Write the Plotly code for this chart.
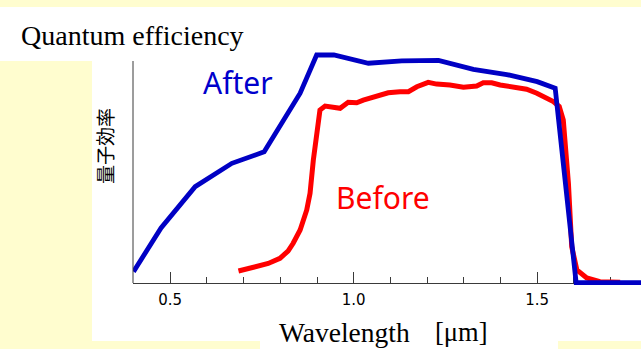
import plotly.graph_objects as go

# ---------------- data ----------------
after_wl = [0.400, 0.475, 0.568, 0.668, 0.756, 0.854, 0.899, 0.946, 1.040,
            1.131, 1.231, 1.326, 1.417, 1.500, 1.549, 1.606, 1.783]
after_qe = [5.1, 24.8, 43.4, 53.9, 59.1, 85.5, 102.7, 102.7, 99.0,
            100.1, 100.3, 96.2, 93.9, 90.7, 87.7, 0.2, 0.2]

before_wl = [0.686, 0.736, 0.767, 0.799, 0.821, 0.835, 0.854, 0.872, 0.881,
             0.890, 0.901, 0.908, 0.922,
             0.949, 0.963, 0.985, 1.008, 1.026, 1.049, 1.072, 1.094, 1.126,
             1.149, 1.172, 1.203, 1.226, 1.262, 1.299, 1.335, 1.353, 1.376,
             1.399, 1.431, 1.471, 1.499, 1.526, 1.544, 1.560, 1.571, 1.585,
             1.594, 1.608, 1.635, 1.671, 1.726]
before_qe = [5.4, 7.3, 8.8, 11.1, 14.4, 17.9, 23.9, 32.9, 40.4,
             55.4, 68.9, 77.9, 79.7,
             79.0, 78.7, 81.4, 81.2, 82.4, 83.5, 85.0, 85.7, 86.2,
             86.2, 88.4, 90.4, 89.6, 89.2, 88.2, 88.7, 90.2, 90.2,
             89.2, 88.2, 87.3, 85.5, 83.2, 81.7, 79.5, 73.4, 45.0,
             16.4, 5.9, 2.3, 0.6, 0.3]

x_ticks = [0.5, 1.0, 1.5]
x_tick_text = ["0.5", "1.0", "1.5"]

# ---------------- layout geometry ----------------
W, H = 641, 349
L, R, T, B = 133, 0, 30, 56
PW, PH = W - L - R, H - T - B
AXIS_Y = 283                      # pixel row of the x axis
PX_PER_UNIT = 2.22
Y_TOP = (AXIS_Y - T) / PX_PER_UNIT
Y_BOT2 = -(H - B - AXIS_Y) / PX_PER_UNIT
X_RANGE = [0.3986, 1.7828]

def pxx(x):
    return (x - L) / PW

def pxy(y):
    return (H - B - y) / PH

YELLOW = "#FFFDCF"
BLUE = "#0000C4"
RED = "#FF0000"
AXIS = "#3a3a3a"

fig = go.Figure()
fig.add_trace(go.Scatter(x=before_wl, y=before_qe, mode="lines", xaxis="x2", yaxis="y2",
                         line=dict(color=RED, width=5),
                         hoverinfo="skip", showlegend=False))
fig.add_trace(go.Scatter(x=after_wl, y=after_qe, mode="lines", xaxis="x2", yaxis="y2",
                         line=dict(color=BLUE, width=4.8),
                         hoverinfo="skip", showlegend=False))

shapes = [
    dict(type="rect", xref="paper", yref="paper", layer="below",
         x0=pxx(92), x1=pxx(641), y0=pxy(341), y1=pxy(7),
         fillcolor="white", line=dict(width=0)),
    dict(type="rect", xref="paper", yref="paper", layer="below",
         x0=pxx(0), x1=pxx(93), y0=pxy(61), y1=pxy(7),
         fillcolor="white", line=dict(width=0)),
    dict(type="rect", xref="paper", yref="paper", layer="below",
         x0=pxx(260), x1=pxx(558), y0=pxy(349), y1=pxy(340),
         fillcolor="white", line=dict(width=0)),
    # y axis line
    dict(type="line", xref="paper", yref="y", x0=0, x1=0, y0=0, y1=100,
         line=dict(color=AXIS, width=1)),
]

annotations = [
    dict(text="Quantum efficiency", x=pxx(19), y=pxy(36), xref="paper", yref="paper",
         xanchor="left", yanchor="middle", showarrow=False,
         font=dict(family="Liberation Serif", size=28, color="black")),
    dict(text="量子効率", x=pxx(104), y=pxy(146), xref="paper", yref="paper",
         xanchor="center", yanchor="middle", showarrow=False, textangle=-90,
         font=dict(family="Noto Sans CJK JP", size=19, color="black")),
    dict(text="After", x=pxx(238), y=pxy(82), xref="paper", yref="paper",
         xanchor="center", yanchor="middle", showarrow=False,
         font=dict(family="Noto Sans", size=30, color="#0000CC")),
    dict(text="Before", x=pxx(383), y=pxy(197), xref="paper", yref="paper",
         xanchor="center", yanchor="middle", showarrow=False,
         font=dict(family="Noto Sans", size=30, color=RED)),
    dict(text="Wavelength", x=pxx(277), y=pxy(332), xref="paper", yref="paper",
         xanchor="left", yanchor="middle", showarrow=False,
         font=dict(family="Liberation Serif", size=27.5, color="black")),
    dict(text="[μm]", x=pxx(433), y=pxy(332), xref="paper", yref="paper",
         xanchor="left", yanchor="middle", showarrow=False,
         font=dict(family="Liberation Serif", size=26.5, color="black")),
]

fig.update_layout(
    width=W, height=H, autosize=False,
    margin=dict(l=L, r=R, t=T, b=B, pad=0),
    paper_bgcolor=YELLOW, plot_bgcolor="rgba(0,0,0,0)",
    shapes=shapes, annotations=annotations,
    xaxis=dict(range=X_RANGE, tickmode="array", tickvals=x_ticks, ticktext=x_tick_text,
               anchor="y", domain=[0, 1],
               ticks="inside", ticklen=11, tickwidth=1, tickcolor=AXIS,
               showline=True, linecolor=AXIS, linewidth=1,
               showgrid=False, zeroline=False, ticklabelstandoff=3,
               tickfont=dict(family="DejaVu Sans", size=15, color="black"),
               minor=dict(tick0=0, dtick=0.1, ticks="inside", ticklen=6,
                          tickwidth=1, tickcolor=AXIS, showgrid=False),
               fixedrange=True),
    yaxis=dict(range=[0, Y_TOP], domain=[(H - B - AXIS_Y) / PH, 1], anchor="x",
               showticklabels=False, ticks="", showgrid=False,
               zeroline=False, showline=False, fixedrange=True),
    xaxis2=dict(range=X_RANGE, domain=[0, 1], anchor="y2", visible=False, fixedrange=True),
    yaxis2=dict(range=[Y_BOT2, Y_TOP], domain=[0, 1], anchor="x2", visible=False,
                fixedrange=True),
)

fig.write_html("out.html")
